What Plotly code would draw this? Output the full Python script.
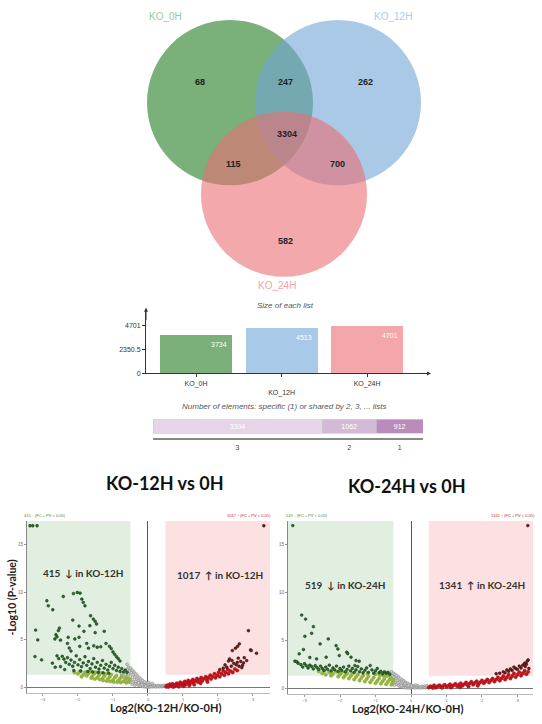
import plotly.graph_objects as go

W, H = 542, 724
def px(x): return x / W
def py(y): return 1 - y / H

# ---------------- data ----------------
venn_sets = ["KO_0H", "KO_12H", "KO_24H"]
venn_counts = [68, 247, 262, 3304, 115, 700, 582]  # 0H only, 0H&12H, 12H only, all, 0H&24H, 12H&24H, 24H only

list_names = ["KO_0H", "KO_12H", "KO_24H"]
list_sizes = [3734, 4513, 4701]

shared_labels = ["3", "2", "1"]
shared_counts = [3304, 1062, 912]

titles = ["KO-12H vs 0H", "KO-24H vs 0H"]
down_counts = [415, 519]
up_counts = [1017, 1341]

# KO-12H vs 0H
g12_x = [-3.37,-3.29,-3.17,-2.02,-1.94,-2.13,-1.89,-1.85,-1.80,-2.42,-2.89,-2.85,-2.72,-1.64,-1.56,-1.51,-1.47,-2.15,-1.97,-1.66,-1.83,-1.51,-1.25,-2.53,-2.56,-2.63,-2.66,-2.60,-2.50,-3.21,-3.15,-3.23,-3.04,-2.73,-2.28,-2.25,-2.09,-1.97,-2.30,-2.20,-1.95,-1.75,-1.70,-1.55,-1.45,-1.35,-1.20,-1.10,-1.05,-1.00,-0.95,-0.90,-0.85,-0.80,
         -2.60,-2.55,-2.45,-2.40,-2.35,-2.30,-2.25,-2.20,-2.15,-2.10,-2.05,-2.00,-1.95,-1.90,-1.85,-1.80,-1.75,-1.70,-1.65,-1.60,-1.55,-1.50,-1.45,-1.40,-1.35,-1.30,-1.25,-1.20,-1.15,-1.10,-1.05,-1.00,-0.95,-0.90,-0.85,-0.80,-0.75,-0.70,-0.65,-0.60,-2.65,-2.50,-2.38,-2.12,-1.92,-1.72,-1.58,-1.42,-1.28,-1.12]
g12_y = [17.0,17.0,17.0,9.97,9.90,9.86,9.27,8.92,8.57,9.55,9.10,8.57,8.15,7.52,7.17,6.93,6.65,7.06,6.43,6.47,5.88,5.74,5.88,6.22,5.95,5.53,5.07,5.30,4.95,6.01,4.97,3.22,2.87,2.52,5.25,4.12,5.07,5.25,4.60,3.80,4.30,4.60,4.10,4.35,4.20,4.25,4.60,4.30,4.05,3.70,3.45,3.20,3.00,2.75,
         3.30,3.00,3.25,2.95,2.60,3.10,2.40,2.85,2.20,2.60,3.30,2.35,2.90,2.15,2.55,3.20,2.30,2.70,1.95,2.45,3.00,2.10,2.60,1.90,2.30,2.80,2.00,2.40,1.80,2.20,2.60,1.95,2.30,1.75,2.10,1.65,1.95,1.60,1.80,1.55,2.10,2.15,1.85,1.75,1.70,1.65,1.60,1.55,1.50,1.45]
o12_x = [-2.10,-2.00,-1.95,-1.85,-1.80,-1.75,-1.70,-1.65,-1.60,-1.55,-1.50,-1.45,-1.40,-1.35,-1.30,-1.25,-1.20,-1.15,-1.10,-1.05,-1.00,-0.95,-0.90,-0.85,-0.80,-0.75,-0.70,-0.65,-0.60,-0.55,-0.52,-1.90,-1.62,-1.38,-1.18,-0.98,-0.78,-0.62,-1.52,-1.28,-1.08,-0.88]
o12_y = [1.55,1.40,1.65,1.30,1.55,1.20,1.45,1.65,1.10,1.35,1.55,1.00,1.25,1.50,0.90,1.15,1.40,0.85,1.05,1.30,0.75,1.00,1.20,0.70,0.90,1.15,0.60,0.85,1.05,0.55,0.80,1.10,0.95,0.80,0.65,0.55,0.50,0.45,0.85,0.70,0.60,0.52]
n12_x = [-0.60,-0.58,-0.55,-0.55,-0.52,-0.50,-0.50,-0.48,-0.45,-0.45,-0.42,-0.40,-0.40,-0.38,-0.35,-0.35,-0.32,-0.30,-0.30,-0.28,-0.25,-0.25,-0.22,-0.20,-0.20,-0.18,-0.15,-0.15,-0.12,-0.10,-0.10,-0.08,-0.05,-0.05,-0.02,0.00,0.00,0.03,0.05,0.05,0.08,0.10,0.12,0.15,0.18,0.20,0.22,0.25,0.28,0.30,0.33,0.35,0.38,0.40,0.43,0.45,0.48,0.50,-0.65,-0.70,-0.75,-0.62,-0.58,-0.45,-0.38,-0.27,-0.17,-0.07,0.02,0.12,-0.50,-0.35]
n12_y = [2.40,1.90,2.10,1.40,1.70,2.00,1.10,1.50,1.80,0.80,1.30,1.60,0.60,1.05,1.40,0.40,0.85,1.20,0.25,0.65,1.00,0.15,0.50,0.85,0.10,0.40,0.70,0.05,0.30,0.55,0.05,0.20,0.45,0.02,0.15,0.35,0.02,0.10,0.28,0.01,0.08,0.22,0.03,0.15,0.06,0.20,0.02,0.12,0.05,0.18,0.03,0.10,0.15,0.04,0.12,0.20,0.06,0.14,1.30,1.00,1.40,0.90,0.70,0.30,0.20,0.45,0.25,0.12,0.50,0.40,0.50,0.60]
r12_x = [0.52,0.55,0.60,0.62,0.68,0.70,0.75,0.78,0.82,0.85,0.90,0.92,0.98,1.00,1.05,1.08,1.12,1.15,1.20,1.22,1.28,1.30,1.35,1.40,1.42,1.48,1.52,1.55,1.60,1.65,1.68,1.72,1.78,1.80,1.85,1.90,1.93,1.98,2.02,2.05,2.10,2.15,2.18,2.22,2.28,2.30,2.35,2.42,2.48,2.55,0.58,0.72,0.88,1.02,1.18,1.32,1.50,1.70]
r12_y = [0.05,0.20,0.10,0.30,0.15,0.35,0.08,0.25,0.40,0.15,0.30,0.50,0.20,0.40,0.60,0.28,0.48,0.70,0.35,0.58,0.80,0.45,0.68,0.90,0.55,0.78,1.00,0.65,0.88,1.10,0.75,1.00,1.25,0.85,1.10,1.40,0.98,1.25,1.55,1.10,1.40,1.70,1.25,1.55,1.85,1.40,1.70,1.55,1.90,1.75,0.02,0.02,0.05,0.10,0.18,0.25,0.40,0.55]
m12_x = [3.31,2.87,2.61,2.56,2.50,2.41,2.93,2.95,3.10,2.82,2.33,2.30,2.45,2.55,2.65,2.70,2.60,2.75,2.20,2.25,2.38,2.52,2.68,2.40,2.15,2.05,2.58,2.73]
m12_y = [17.0,5.95,4.55,4.30,4.10,3.85,3.92,3.85,3.57,2.80,2.97,2.75,2.50,2.60,2.70,2.30,2.20,3.10,2.35,2.10,2.20,2.35,2.05,2.80,2.00,1.85,3.05,2.55]

# KO-24H vs 0H
g24_x = [-3.33,-3.08,-2.97,-2.99,-2.75,-2.80,-3.03,-3.15,-2.56,-2.33,-2.39,-2.11,-2.06,-2.02,-1.81,-1.78,-1.69,-1.55,-1.46,-1.58,-2.66,-1.15,-2.85,
         -3.27,-3.22,-3.18,-3.10,-3.05,-3.00,-2.95,-2.90,-2.85,-2.80,-2.75,-2.70,-2.65,-2.60,-2.55,-2.50,-2.45,-2.40,-2.35,-2.30,-2.25,-2.20,-2.15,-2.10,-2.05,-2.00,-1.95,-1.90,-1.85,-1.80,-1.75,-1.70,-1.65,-1.60,-1.55,-1.50,-1.45,-1.40,-1.35,-1.30,-1.25,-1.20,-1.10,-1.05,-1.00,-0.95,-0.90,-0.85,-0.80,-0.75,-0.70,-0.65,-0.60]
g24_y = [17.0,7.64,7.22,5.42,6.43,5.73,4.03,3.58,4.62,5.14,3.23,4.44,4.09,3.40,3.75,3.60,3.23,2.88,2.81,2.36,3.05,2.36,3.20,
         2.81,2.77,2.60,2.45,2.20,2.55,2.35,2.10,2.40,2.25,2.00,2.35,2.15,1.95,2.30,2.05,1.85,2.20,1.95,2.40,1.80,2.10,1.90,2.30,1.75,2.05,1.85,2.20,1.70,1.95,2.30,1.80,2.05,1.65,1.90,2.25,1.70,2.00,1.60,1.85,2.10,1.65,1.90,1.55,1.80,2.05,1.60,1.75,1.50,1.70,1.55,1.65,1.45]
o24_x = [-2.60,-2.50,-2.45,-2.40,-2.30,-2.25,-2.20,-2.10,-2.05,-2.00,-1.95,-1.90,-1.85,-1.80,-1.75,-1.70,-1.65,-1.60,-1.55,-1.50,-1.45,-1.40,-1.35,-1.30,-1.25,-1.20,-1.15,-1.10,-1.05,-1.00,-0.95,-0.90,-0.85,-0.80,-0.75,-0.70,-0.65,-0.60,-0.55,-0.52,-0.50,-0.58,-0.68,-0.78,-0.88,-1.00,-1.22]
o24_y = [1.75,1.55,1.80,1.40,1.65,1.30,1.50,1.70,1.20,1.45,1.65,1.10,1.35,1.55,1.00,1.25,1.50,0.90,1.15,1.40,0.80,1.05,1.30,0.70,0.95,1.20,0.60,0.85,1.10,0.50,0.75,1.00,0.45,0.70,0.95,0.40,0.65,0.90,0.35,0.60,0.85,1.15,1.25,1.30,1.35,1.45,1.50]
n24_x = [-0.55,-0.52,-0.50,-0.50,-0.48,-0.45,-0.45,-0.42,-0.40,-0.40,-0.38,-0.35,-0.35,-0.32,-0.30,-0.30,-0.28,-0.25,-0.25,-0.22,-0.20,-0.20,-0.18,-0.15,-0.15,-0.12,-0.10,-0.10,-0.08,-0.05,-0.05,-0.02,0.00,0.00,0.03,0.05,0.08,0.10,0.12,0.15,0.18,0.20,0.22,0.25,0.28,0.30,0.33,0.35,0.38,0.40,0.43,0.45,0.48,-0.47,-0.37,-0.27,-0.17,-0.07,0.02,0.14]
n24_y = [1.70,1.30,1.55,0.90,1.15,1.45,0.60,1.00,1.30,0.40,0.80,1.15,0.25,0.65,1.00,0.15,0.50,0.85,0.10,0.40,0.75,0.05,0.30,0.60,0.03,0.25,0.50,0.02,0.18,0.40,0.02,0.12,0.32,0.01,0.08,0.25,0.05,0.20,0.02,0.14,0.05,0.22,0.02,0.12,0.04,0.18,0.03,0.12,0.20,0.05,0.14,0.25,0.08,0.30,0.55,0.30,0.45,0.30,0.20,0.32]
r24_x = [0.50,0.55,0.60,0.65,0.70,0.75,0.80,0.85,0.90,0.95,1.00,1.05,1.10,1.15,1.20,1.25,1.30,1.35,1.40,1.45,1.50,1.55,1.60,1.65,1.70,1.75,1.80,1.85,1.90,1.95,2.00,2.05,2.10,2.15,2.20,2.25,2.30,2.35,2.40,2.45,2.50,2.55,2.60,2.65,2.70,2.75,2.80,2.85,2.90,2.95,3.00,3.05,3.10,3.15,3.20,3.25,3.30,0.62,0.88,1.12,1.38,1.62,1.88]
r24_y = [0.05,0.20,0.10,0.28,0.05,0.18,0.30,0.10,0.22,0.35,0.12,0.25,0.40,0.15,0.30,0.45,0.20,0.35,0.50,0.25,0.40,0.58,0.30,0.47,0.65,0.36,0.55,0.72,0.42,0.60,0.80,0.50,0.70,0.90,0.58,0.80,1.00,0.68,0.90,1.12,0.78,1.00,1.25,0.90,1.12,1.38,1.00,1.25,1.52,1.15,1.40,1.65,1.30,1.55,1.80,1.45,1.70,0.02,0.03,0.06,0.10,0.16,0.24]
m24_x = [3.29,3.30,3.27,3.20,3.15,3.22,3.05,3.10,2.95,3.00,2.90,2.85,2.80,2.75,2.70,2.60,2.65,2.50,2.40,3.25,3.32]
m24_y = [17.0,2.95,2.80,2.60,2.40,2.25,2.30,2.10,2.05,1.95,2.20,1.85,2.00,1.75,1.90,1.70,1.60,1.55,1.50,2.50,2.05]

FC_CUT = 0.5
P_CUT = 1.3

# ---------------- figure ----------------
fig = go.Figure()
ARIAL = "Liberation Sans, Arial, sans-serif"
CAL = "Lato, Open Sans, sans-serif"

annotations = []
def note(text, x, y, size, color, family=ARIAL, **kw):
    d = dict(text=text, x=px(x), y=py(y), xref="paper", yref="paper", showarrow=False,
             xanchor="center", yanchor="middle", font=dict(family=family, size=size, color=color))
    d.update(kw)
    annotations.append(d)

# Venn circles
venn_centers = [(230, 103), (338, 103), (284, 195)]
venn_fill = ["rgb(33,123,33)", "rgb(112,165,213)", "rgb(235,110,115)"]
R = 83
shapes = []
for (cx, cy), c in zip(venn_centers, venn_fill):
    shapes.append(dict(type="circle", xref="paper", yref="paper",
                       x0=px(cx - R), x1=px(cx + R), y0=py(cy + R), y1=py(cy - R),
                       fillcolor=c, opacity=0.6, line=dict(width=0), layer="below"))

venn_label_pos = [(165, 17), (393, 17), (277, 287)]
venn_label_col = ["#9cc79c", "#a9cbe9", "#f2a2a5"]
for name, (x, y), c in zip(venn_sets, venn_label_pos, venn_label_col):
    note(name, x, y, 10, c)
venn_count_pos = [(200, 82), (285, 82), (365, 82), (287, 135), (233, 165), (337, 165), (285, 242)]
for v, (x, y) in zip(venn_counts, venn_count_pos):
    note("<b>%d</b>" % v, x, y, 9, "#222")

# Size of each list bar chart
bar_colors = ["#7bb07b", "#a8c9e8", "#f4a7aa"]
idx = list(range(len(list_sizes)))
fig.add_trace(go.Bar(x=idx, y=list_sizes, width=0.84, marker=dict(color=bar_colors, line=dict(width=0)),
                     xaxis="x", yaxis="y", showlegend=False, hoverinfo="skip"))
for i, v in zip(idx, list_sizes):
    annotations.append(dict(text=str(v), x=i + 0.38, y=v, xref="x", yref="y", xanchor="right", yanchor="top",
                            yshift=-4, showarrow=False, font=dict(family=ARIAL, size=7, color="white")))
note("<i>Size of each list</i>", 285, 307, 8, "#555")
# axis arrows
annotations.append(dict(text="", x=px(146), y=py(309), ax=0, ay=14, xref="paper", yref="paper",
                        showarrow=True, arrowhead=2, arrowsize=0.8, arrowwidth=1, arrowcolor="#333"))
annotations.append(dict(text="", x=px(431), y=py(375), ax=-14, ay=0, xref="paper", yref="paper",
                        showarrow=True, arrowhead=2, arrowsize=0.8, arrowwidth=1, arrowcolor="#333"))

# stacked shared bar
shared_colors = ["#e6d4e7", "#d4bad7", "#ba8cbb"]
total = sum(shared_counts)
centers = []
acc = 0
for lab, v, c in zip(shared_labels, shared_counts, shared_colors):
    fig.add_trace(go.Bar(x=[v], y=[0], orientation="h", width=1,
                         marker=dict(color=c, line=dict(color="#c8c8c8", width=0.6)),
                         text=[str(v)], textposition="inside", insidetextanchor="middle",
                         textfont=dict(family=ARIAL, size=7, color="white"),
                         xaxis="x2", yaxis="y2", showlegend=False, hoverinfo="skip"))
    centers.append(acc + v / 2)
    acc += v
note("<i>Number of elements: specific (1) or shared by 2, 3, ... lists</i>", 284, 408, 8, "#555")

# volcano plots
def add_volcano(k, xs_list, ys_list, styles):
    for xs, ys, st in zip(xs_list, ys_list, styles):
        fig.add_trace(go.Scatter(x=xs, y=ys, mode="markers", marker=st,
                                 xaxis="x%d" % k, yaxis="y%d" % k, showlegend=False, hoverinfo="skip"))

st_gray = dict(size=2.8, color="#d0d0d0", line=dict(color="#7a7a7a", width=0.5))
st_olive = dict(size=3.6, color="#97b83b", line=dict(color="#7d9a2e", width=0.3))
st_dark = dict(size=2.8, color="#2f6a2f", line=dict(color="#0f300f", width=0.5))
st_red = dict(size=3.6, color="#c2141c", line=dict(color="#a00f15", width=0.3))
st_maroon = dict(size=2.8, color="#7a1c1c", line=dict(color="#1f0505", width=0.5))

add_volcano(3, [n12_x, o12_x, g12_x, r12_x, m12_x], [n12_y, o12_y, g12_y, r12_y, m12_y],
            [st_gray, st_olive, st_dark, st_red, st_maroon])
add_volcano(4, [n24_x, o24_x, g24_x, r24_x, m24_x], [n24_y, o24_y, g24_y, r24_y, m24_y],
            [st_gray, st_olive, st_dark, st_red, st_maroon])

vol_xrange = {3: [-3.457, 3.486], 4: [-3.465, 3.437]}
vol_yrange = {3: [-0.63, 17.52], 4: [-0.63, 17.5]}
for k in (3, 4):
    x0, x1 = vol_xrange[k]
    y0, y1 = vol_yrange[k]
    shapes.append(dict(type="rect", xref="x%d" % k, yref="y%d" % k, x0=x0, x1=-FC_CUT, y0=P_CUT, y1=y1,
                       fillcolor="#e0efdf", line=dict(width=0), layer="below"))
    shapes.append(dict(type="rect", xref="x%d" % k, yref="y%d" % k, x0=FC_CUT, x1=x1, y0=P_CUT, y1=y1,
                       fillcolor="#fde0e1", line=dict(width=0), layer="below"))

vol_title_pos = [(165, 485), (407, 488)]
down_pos = [(83, 575), (345, 587)]
up_pos = [(220, 577), (482, 587)]
xtitle_pos = [(165, 710), (407, 711)]
tiny_left = [(45, 518), (307, 518)]
tiny_right = [(249, 518), (513, 518)]
tags = ["KO-12H", "KO-24H"]
for j in range(2):
    note("<b>%s</b>" % titles[j], *vol_title_pos[j], 18, "#111", family=CAL)
    note("<b>%d  \u2193 in %s</b>" % (down_counts[j], tags[j]), *down_pos[j], 10, "#333", family=CAL)
    note("<b>%d  \u2191 in %s</b>" % (up_counts[j], tags[j]), *up_pos[j], 10, "#333", family=CAL)
    note("<b>Log2(%s/KO-0H)</b>" % tags[j], *xtitle_pos[j], 11, "#222", family=CAL)
    note("%d \u2193 (FC + PV < 0.05)" % down_counts[j], *tiny_left[j], 4, "#3a8a3a")
    note("%d \u2191 (FC + PV < 0.05)" % up_counts[j], *tiny_right[j], 4, "#cc2222")
note("<b>-Log10 (P-value)</b>", 12, 600, 10.5, "#222", family=CAL, textangle=-90)

axis_common = dict(showgrid=False, fixedrange=True)
layout = dict(
    width=W, height=H, margin=dict(l=0, r=0, t=0, b=0),
    paper_bgcolor="white", plot_bgcolor="rgba(0,0,0,0)",
    barmode="stack", showlegend=False,
    shapes=shapes, annotations=annotations,
    xaxis=dict(domain=[px(146), px(427)], range=[-0.585, 2.70], tickvals=idx,
               ticktext=[n if i != 1 else "<br>" + n for i, n in enumerate(list_names)],
               showline=True, linecolor="#333", linewidth=1, ticks="outside", ticklen=3, tickcolor="#333",
               tickfont=dict(family=ARIAL, size=7, color="#333"), zeroline=False, anchor="y", **axis_common),
    yaxis=dict(domain=[py(375), py(312)], range=[0, 6170],
               tickvals=[0, max(list_sizes) / 2, max(list_sizes)],
               ticktext=["0", "%g" % (max(list_sizes) / 2), str(max(list_sizes))],
               showline=True, linecolor="#333", linewidth=1, ticks="outside", ticklen=3, tickcolor="#333",
               tickfont=dict(family=ARIAL, size=7, color="#333"), zeroline=False, anchor="x", **axis_common),
    xaxis2=dict(domain=[px(153), px(423)], range=[0, total], tickvals=centers, ticktext=shared_labels,
                showline=True, linecolor="#888", linewidth=1.5, ticks="", ticklabelstandoff=2,
                tickfont=dict(family=ARIAL, size=7, color="#444"), zeroline=False, anchor="y2", **axis_common),
    yaxis2=dict(domain=[py(440), py(421)], range=[-0.857, 0.5], visible=False, anchor="x2", **axis_common),
)
vol_xdom = {3: [px(27), px(270)], 4: [px(288), px(533)]}
vol_ydom = {3: [py(696), py(523)], 4: [py(697), py(523)]}
for k in (3, 4):
    layout["xaxis%d" % k] = dict(domain=vol_xdom[k], range=vol_xrange[k], tickvals=[-3, -2, -1, 0, 1, 2, 3],
                                 showline=True, linecolor="#bbb", linewidth=1, ticks="outside", ticklen=2,
                                 tickcolor="#999", tickfont=dict(family=ARIAL, size=4, color="#666"),
                                 ticklabelstandoff=0,
                                 zeroline=True, zerolinecolor="#555", zerolinewidth=1,
                                 anchor="y%d" % k, **axis_common)
    layout["yaxis%d" % k] = dict(domain=vol_ydom[k], range=vol_yrange[k], tickvals=[0, 5, 10, 15],
                                 showline=True, linecolor="#888", linewidth=1, ticks="outside", ticklen=2,
                                 tickcolor="#999", tickfont=dict(family=ARIAL, size=4.5, color="#666"),
                                 zeroline=True, zerolinecolor="#777", zerolinewidth=1,
                                 anchor="x%d" % k, **axis_common)
fig.update_layout(**layout)
fig.write_html("out.html", config={"displayModeBar": False},
               post_script="document.body.style.margin='0';")
